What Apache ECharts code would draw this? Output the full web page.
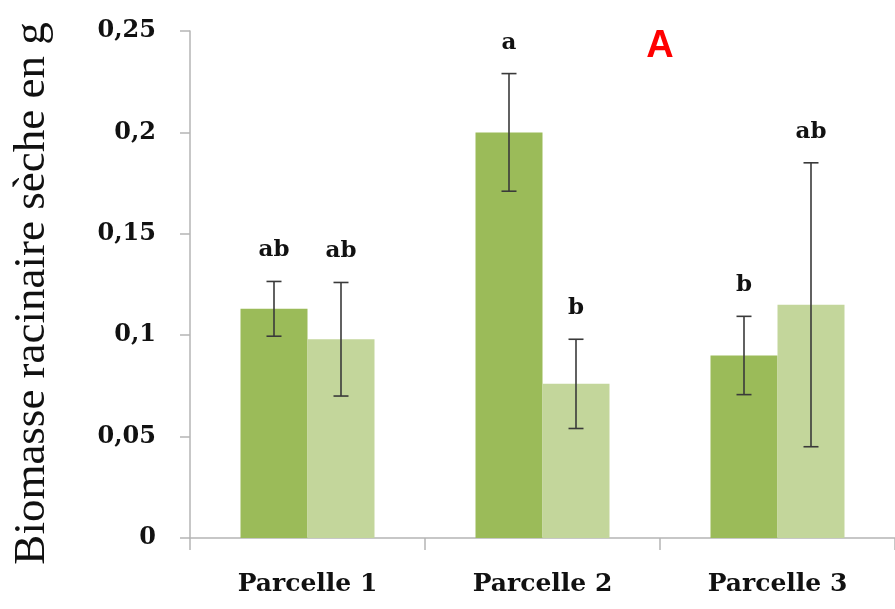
<!DOCTYPE html>
<html>
<head>
<meta charset="utf-8">
<script src="https://cdn.jsdelivr.net/npm/echarts@6/dist/echarts.min.js"></script>
<style>
html,body{margin:0;padding:0;background:#fff;}
#chart{width:895px;height:609px;}
</style>
</head>
<body>
<div id="chart"></div>
<script>
// ---- data ----
const categories = ['Parcelle 1', 'Parcelle 2', 'Parcelle 3'];
const seriesA = [0.113, 0.200, 0.090];        // dark green bars
const seriesB = [0.098, 0.076, 0.115];        // light green bars
const errA = [0.0135, 0.029, 0.0193];         // ± error, dark bars
const errB = [0.028, 0.022, 0.070];           // ± error, light bars
const lettersA = ['ab', 'a', 'b'];
const lettersB = ['ab', 'b', 'ab'];
const yTickLabels = ['0', '0,05', '0,1', '0,15', '0,2', '0,25'];
const yTitle = 'Biomasse racinaire sèche en g';
const panelTitle = 'A';

// ---- styles ----
const BAR_W = 67;
const darkGreen = '#9bbb59';
const lightGreen = '#c3d69b';
const axisGray = '#b5b5b5';

function errData(vals, errs, letters, side) {
  return vals.map((v, i) => [i, v - errs[i], v + errs[i], letters[i], side]);
}

function renderErr(params, api) {
  const idx = api.value(0);
  const side = api.value(4);
  const lo = api.coord([idx, api.value(1)]);
  const hi = api.coord([idx, api.value(2)]);
  const x = lo[0] + side * BAR_W / 2;
  const cap = 7.5;
  const st = { stroke: '#3a3a3a', lineWidth: 1.6 };
  return {
    type: 'group',
    children: [
      { type: 'line', shape: { x1: x, y1: hi[1], x2: x, y2: lo[1] }, style: st },
      { type: 'line', shape: { x1: x - cap, y1: hi[1], x2: x + cap, y2: hi[1] }, style: st },
      { type: 'line', shape: { x1: x - cap, y1: lo[1], x2: x + cap, y2: lo[1] }, style: st },
      { type: 'text', style: {
          text: api.value(3), x: x, y: hi[1] - 31,
          align: 'center', verticalAlign: 'middle',
          font: 'bold 23px "DejaVu Serif", serif', fill: '#111'
        } }
    ]
  };
}

const chart = echarts.init(document.getElementById('chart'), null, { renderer: 'canvas' });
chart.setOption({
  animation: false,
  backgroundColor: '#fff',
  title: {
    text: panelTitle, left: 655, top: 23, textAlign: 'center',
    textStyle: { color: '#ff0000', fontFamily: '"Liberation Sans", Arial, sans-serif', fontWeight: 'bold', fontSize: 38 }
  },
  grid: { left: 190, top: 31, width: 709, height: 507, containLabel: false },
  xAxis: {
    type: 'category', data: categories,
    axisLine: { lineStyle: { color: axisGray, width: 1.5 } },
    axisTick: { show: true, length: 12, alignWithLabel: false, lineStyle: { color: axisGray, width: 1.5 } },
    axisLabel: { margin: 34, color: '#111', fontFamily: '"DejaVu Serif", serif', fontWeight: 'bold', fontSize: 25 }
  },
  yAxis: {
    type: 'value', min: 0, max: 0.25, interval: 0.05,
    splitLine: { show: false },
    axisLine: { show: true, lineStyle: { color: axisGray, width: 1.5 } },
    axisTick: { show: true, length: 10, lineStyle: { color: axisGray, width: 1.5 } },
    axisLabel: {
      margin: 34, color: '#111', fontFamily: '"DejaVu Serif", serif', fontWeight: 'bold', fontSize: 24,
      formatter: v => yTickLabels[Math.round(v / 0.05)]
    },
    name: yTitle, nameLocation: 'middle', nameGap: 135, nameRotate: 90,
    nameTextStyle: { color: '#111', fontFamily: '"Liberation Serif", "Times New Roman", serif', fontSize: 45, padding: [0, 18, 0, 0] }
  },
  series: [
    { type: 'bar', data: seriesA, barWidth: BAR_W, barGap: '0%', itemStyle: { color: darkGreen }, z: 2 },
    { type: 'bar', data: seriesB, barWidth: BAR_W, barGap: '0%', itemStyle: { color: lightGreen }, z: 2 },
    { type: 'custom', renderItem: renderErr, data: errData(seriesA, errA, lettersA, -1), z: 5 },
    { type: 'custom', renderItem: renderErr, data: errData(seriesB, errB, lettersB, 1), z: 5 }
  ]
});
</script>
</body>
</html>
